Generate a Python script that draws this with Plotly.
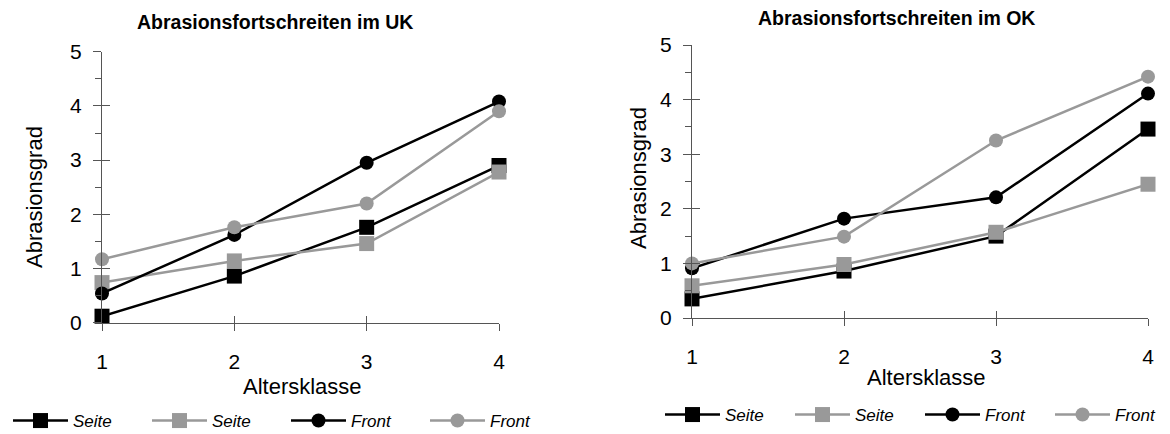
import plotly.graph_objects as go

# ---- data ----
age_classes = [1, 2, 3, 4]
series_names = ["Seite", "Seite", "Front", "Front"]

uk_seite_black = [0.12, 0.86, 1.76, 2.90]
uk_seite_gray = [0.74, 1.14, 1.46, 2.78]
uk_front_black = [0.54, 1.62, 2.95, 4.08]
uk_front_gray = [1.17, 1.76, 2.20, 3.90]

ok_seite_black = [0.35, 0.86, 1.50, 3.46]
ok_seite_gray = [0.59, 0.98, 1.57, 2.45]
ok_front_black = [0.91, 1.82, 2.21, 4.11]
ok_front_gray = [1.00, 1.49, 3.25, 4.42]

y_ticks = [0, 1, 2, 3, 4, 5]
titles = ["Abrasionsfortschreiten im UK", "Abrasionsfortschreiten im OK"]

BLACK = "#000000"
GRAY = "#999999"
AXC = "#555555"
FONT = "Liberation Sans, Arial, sans-serif"

# the page body has an 8px margin, so the figure is sized to fill the rest of the window
OFF = 8
W, H = 1170 - OFF, 434 - OFF

def px_x(v):
    return (v - OFF) / W

def px_y(v):
    return 1 - (v - OFF) / H

fig = go.Figure()

styles = [(BLACK, "square", 15), (GRAY, "square", 15), (BLACK, "circle", 14), (GRAY, "circle", 14)]

panels = [
    ("x", "y", "legend", [uk_seite_black, uk_seite_gray, uk_front_black, uk_front_gray]),
    ("x2", "y2", "legend2", [ok_seite_black, ok_seite_gray, ok_front_black, ok_front_gray]),
]

for xa, ya, lg, sers in panels:
    for name, vals, (col, sym, sz) in zip(series_names, sers, styles):
        fig.add_trace(go.Scatter(
            x=age_classes, y=vals, name=name, mode="lines+markers",
            line=dict(color=col, width=2.5),
            marker=dict(color=col, symbol=sym, size=sz),
            xaxis=xa, yaxis=ya, legend=lg, cliponaxis=False,
        ))

# empty traces so that overlay axes are created
for xa, ya in [("x3", "y3"), ("x4", "y4")]:
    fig.add_trace(go.Scatter(x=[], y=[], xaxis=xa, yaxis=ya, showlegend=False, hoverinfo="skip"))

# plot area pixel geometry (window pixels)
L_dom_x = [px_x(102), px_x(499)]
L_dom_y = [px_y(322.7), px_y(51.7)]
R_dom_x = [px_x(692), px_x(1148)]
R_dom_y = [px_y(318), px_y(45)]

tickfont = dict(family=FONT, size=21, color="#000")

def xaxis_main(dom, anchor):
    return dict(domain=dom, anchor=anchor, range=[1, 4], tickvals=age_classes,
                ticks="outside", ticklen=7, tickcolor=AXC, tickwidth=1,
                showline=True, linecolor=AXC, linewidth=1, showgrid=False, zeroline=False,
                tickfont=tickfont, ticklabelstandoff=13)

def yaxis_main(dom, anchor):
    return dict(domain=dom, anchor=anchor, range=[0, 5], tickvals=y_ticks,
                ticks="outside", ticklen=8, tickcolor=AXC, tickwidth=1,
                minor=dict(ticks="outside", ticklen=6, dtick=0.5, tickcolor=AXC, tickwidth=1, showgrid=False),
                showline=True, linecolor=AXC, linewidth=1, showgrid=False, zeroline=False,
                tickfont=tickfont, ticklabelstandoff=7)

def overlay(ax, anchor, side, rng, vals, ln):
    return dict(overlaying=ax, anchor=anchor, side=side, range=rng, tickvals=vals,
                ticks="inside", ticklen=ln, tickcolor=AXC, showticklabels=False, showline=False,
                showgrid=False, zeroline=False)

legfont = dict(family=FONT, size=17, style="italic", color="#000")

fig.update_layout(
    width=W, height=H, autosize=False,
    margin=dict(l=0, r=0, t=0, b=0, autoexpand=False),
    paper_bgcolor="white", plot_bgcolor="rgba(0,0,0,0)",
    font=dict(family=FONT, color="#000"),
    xaxis=xaxis_main(L_dom_x, "y"),
    yaxis=yaxis_main(L_dom_y, "x"),
    xaxis2=xaxis_main(R_dom_x, "y2"),
    yaxis2=yaxis_main(R_dom_y, "x2"),
    xaxis3=overlay("x", "y", "bottom", [1, 4], age_classes, 7),
    yaxis3=overlay("y", "x", "left", [0, 5], y_ticks, 8),
    xaxis4=overlay("x2", "y2", "bottom", [1, 4], age_classes, 7),
    yaxis4=overlay("y2", "x2", "left", [0, 5], y_ticks, 8),
    legend=dict(orientation="h", x=px_x(8), y=px_y(421), xanchor="left", yanchor="middle",
                font=legfont, itemwidth=55, entrywidth=69, entrywidthmode="pixels",
                bgcolor="rgba(0,0,0,0)", tracegroupgap=0),
    legend2=dict(orientation="h", x=px_x(660), y=px_y(415), xanchor="left", yanchor="middle",
                 font=legfont, itemwidth=55, entrywidth=60, entrywidthmode="pixels",
                 bgcolor="rgba(0,0,0,0)", tracegroupgap=0),
    showlegend=True,
)

annots = [
    dict(text="<b>" + titles[0] + "</b>", x=px_x(275), y=px_y(22), size=19.5, angle=0),
    dict(text="<b>" + titles[1] + "</b>", x=px_x(896), y=px_y(18), size=19.5, angle=0),
    dict(text="Abrasionsgrad", x=px_x(34), y=px_y(197), size=22, angle=-90),
    dict(text="Abrasionsgrad", x=px_x(638), y=px_y(178), size=22, angle=-90),
    dict(text="Altersklasse", x=px_x(302), y=px_y(386), size=22, angle=0),
    dict(text="Altersklasse", x=px_x(926), y=px_y(377), size=22, angle=0),
]
for a in annots:
    fig.add_annotation(xref="paper", yref="paper", xanchor="center", yanchor="middle",
                       showarrow=False, font=dict(family=FONT, color="#000", size=a["size"]),
                       text=a["text"], x=a["x"], y=a["y"], textangle=a["angle"])

fig.write_html("out.html")
